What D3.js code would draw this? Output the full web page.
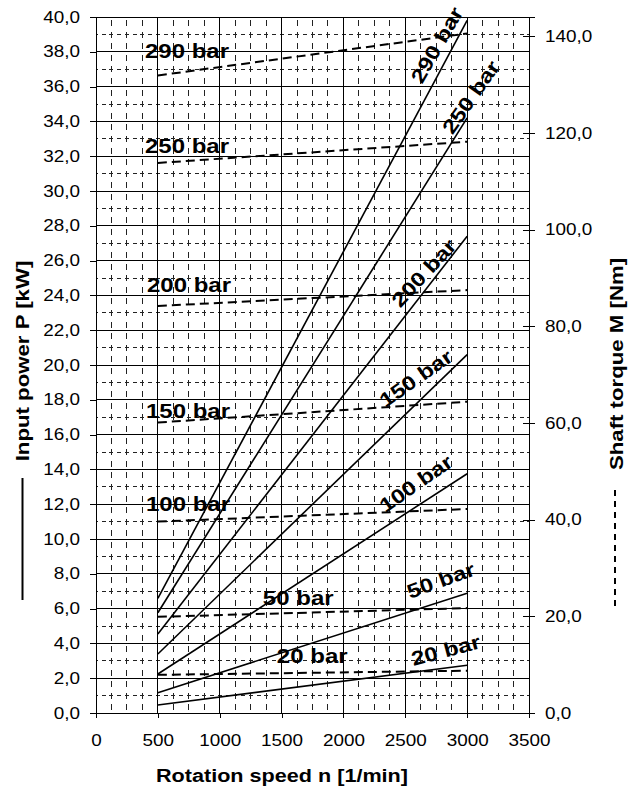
<!DOCTYPE html>
<html>
<head>
<meta charset="utf-8">
<script src="https://cdn.jsdelivr.net/npm/d3@7/dist/d3.min.js"></script>
<style>
  html, body { margin: 0; padding: 0; background: #fff; }
  svg { display: block; font-family: "Liberation Sans", Arial, sans-serif; }
</style>
</head>
<body>
<svg id="chart" width="639" height="792"></svg>
<script>
// Pump characteristic: input power (solid) and shaft torque (dashed) vs. speed
const pressures    = ["20 bar", "50 bar", "100 bar", "150 bar", "200 bar", "250 bar", "290 bar"];
const speeds       = [500, 3000];                                   // 1/min
const powerAt500   = [0.46, 1.17, 2.24, 3.39, 4.54, 5.76, 6.59];    // kW
const powerAt3000  = [2.74, 6.88, 13.75, 20.6, 27.4, 34.2, 39.8];   // kW
const torqueAt500  = [7.9, 19.9, 39.6, 60.1, 84.2, 113.8, 131.9];   // Nm
const torqueAt3000 = [8.75, 21.7, 42.2, 64.4, 87.5, 118.2, 140.6];  // Nm

const speedTicks  = d3.range(0, 3501, 500);
const powerTicks  = d3.range(0, 41, 2);
const torqueTicks = d3.range(0, 141, 20);

// label placement (speed, power) and rotation
const leftLabelAt  = [[1462, 2.87], [1349, 6.21], [404, 11.61], [404, 16.95], [412, 24.22], [396, 32.18], [396, 37.67]];
const rightLabelAt = [[2827, 3.62], [2787, 7.64], [2585, 13.2], [2585, 19.25], [2649, 25.3], [3029, 35.4], [2754, 38.4]];
const rightLabelAngle = [-15, -20, -35, -35, -47, -55, -60];

const svg = d3.select("#chart");
const x  = d3.scaleLinear().domain([0, 3500]).range([96, 529]);
const y  = d3.scaleLinear().domain([0, 40]).range([713, 17]);
const yT = d3.scaleLinear().domain([0, 144]).range([713, 17]);

const comma = d => d3.format(".1f")(d).replace(".", ",");

// widen glyphs horizontally
function widen(sel, k) {
  sel.each(function () {
    const L = this.getComputedTextLength();
    this.setAttribute("textLength", L * k);
    this.setAttribute("lengthAdjust", "spacingAndGlyphs");
  });
}

// minor grid (dashed)
const grid = svg.append("g").attr("shape-rendering", "crispEdges");
grid.selectAll("line.mv")
  .data(d3.range(125, 3500, 125).filter(v => v % 500 !== 0))
  .join("line").attr("class", "mv")
  .attr("x1", d => x(d)).attr("x2", d => x(d))
  .attr("y1", y(40)).attr("y2", y(0))
  .attr("stroke", "#222").attr("stroke-width", 1)
  .attr("stroke-dasharray", "6,5.6").attr("stroke-dashoffset", -2.9);
grid.selectAll("line.mh")
  .data(d3.range(1, 40, 2))
  .join("line").attr("class", "mh")
  .attr("x1", x(0)).attr("x2", x(3500))
  .attr("y1", d => y(d)).attr("y2", d => y(d))
  .attr("stroke", "#222").attr("stroke-width", 1)
  .attr("stroke-dasharray", "4,3.74").attr("stroke-dashoffset", 2);

// major grid (solid)
grid.selectAll("line.Mv")
  .data(speedTicks)
  .join("line").attr("class", "Mv")
  .attr("x1", d => x(d)).attr("x2", d => x(d))
  .attr("y1", y(40)).attr("y2", y(0))
  .attr("stroke", "#000").attr("stroke-width", 1);
grid.selectAll("line.Mh")
  .data(powerTicks)
  .join("line").attr("class", "Mh")
  .attr("x1", x(0)).attr("x2", x(3500))
  .attr("y1", d => y(d)).attr("y2", d => y(d))
  .attr("stroke", "#000").attr("stroke-width", 1);

// axes
const axLeft = svg.append("g").attr("transform", `translate(${x(0)},0)`)
  .call(d3.axisLeft(y).tickValues(powerTicks).tickSize(6).tickPadding(10).tickFormat(comma));
const axRight = svg.append("g").attr("transform", `translate(${x(3500)},0)`)
  .call(d3.axisRight(yT).tickValues(torqueTicks).tickSize(6).tickPadding(10).tickFormat(comma));
axRight.selectAll(".tick").append("line").attr("x2", -6).attr("stroke", "#000");
const axBottom = svg.append("g").attr("transform", `translate(0,${y(0)})`)
  .call(d3.axisBottom(x).tickValues(speedTicks).tickSize(5).tickPadding(17).tickFormat(d3.format("d")));

[axLeft, axRight, axBottom].forEach(a => {
  a.attr("shape-rendering", "crispEdges");
  a.select(".domain").attr("stroke", "#000");
  a.selectAll(".tick line").attr("stroke", "#000");
  a.selectAll("text").attr("fill", "#000").style("font-size", "16px").style("font-family", "'Liberation Sans', Arial, sans-serif");
  widen(a.selectAll("text"), 1.18);
});

// input power (solid)
const line = d3.line().x(d => x(d[0])).y(d => y(d[1]));
svg.append("g").selectAll("path")
  .data(pressures.map((p, i) => [[speeds[0], powerAt500[i]], [speeds[1], powerAt3000[i]]]))
  .join("path")
  .attr("d", line)
  .attr("fill", "none").attr("stroke", "#000").attr("stroke-width", 1.6);

// shaft torque (dashed)
const tline = d3.line().x(d => x(d[0])).y(d => yT(d[1]));
svg.append("g").selectAll("path")
  .data(pressures.map((p, i) => [[speeds[0], torqueAt500[i]], [speeds[1], torqueAt3000[i]]]))
  .join("path")
  .attr("d", tline)
  .attr("fill", "none").attr("stroke", "#000").attr("stroke-width", 2)
  .attr("stroke-dasharray", "9,5");

// pressure labels
const lbl = svg.append("g").attr("font-weight", "bold").attr("font-size", 20).attr("fill", "#000");
const leftTexts = lbl.selectAll("text.l")
  .data(pressures)
  .join("text").attr("class", "l")
  .attr("x", (d, i) => x(leftLabelAt[i][0]))
  .attr("y", (d, i) => y(leftLabelAt[i][1]))
  .text(d => d);
widen(leftTexts, 1.2);
const rightTexts = lbl.selectAll("text.r")
  .data(pressures)
  .join("text").attr("class", "r")
  .attr("text-anchor", "middle")
  .attr("dy", "0.36em")
  .attr("transform", (d, i) => `translate(${x(rightLabelAt[i][0])},${y(rightLabelAt[i][1])}) rotate(${rightLabelAngle[i]})`)
  .text(d => d);
widen(rightTexts, 1.2);

// axis titles
const titles = svg.append("g").attr("font-weight", "bold").attr("fill", "#000");
titles.append("text")
  .attr("x", 282).attr("y", 782).attr("text-anchor", "middle").attr("font-size", 18)
  .text("Rotation speed n [1/min]");
titles.append("text")
  .attr("transform", "translate(29,361) rotate(-90)").attr("text-anchor", "middle").attr("font-size", 18.5)
  .text("Input power P [kW]");
titles.append("text")
  .attr("transform", "translate(623,364) rotate(-90)").attr("text-anchor", "middle").attr("font-size", 18.5)
  .text("Shaft torque M [Nm]");
widen(titles.selectAll("text"), 1.2);

// legend keys beside the axis titles
svg.append("line").attr("x1", 22.5).attr("x2", 22.5).attr("y1", 478).attr("y2", 600)
  .attr("stroke", "#000").attr("stroke-width", 2);
svg.append("line").attr("x1", 615).attr("x2", 615).attr("y1", 490).attr("y2", 610)
  .attr("stroke", "#000").attr("stroke-width", 2).attr("stroke-dasharray", "6,5");
</script>
</body>
</html>
